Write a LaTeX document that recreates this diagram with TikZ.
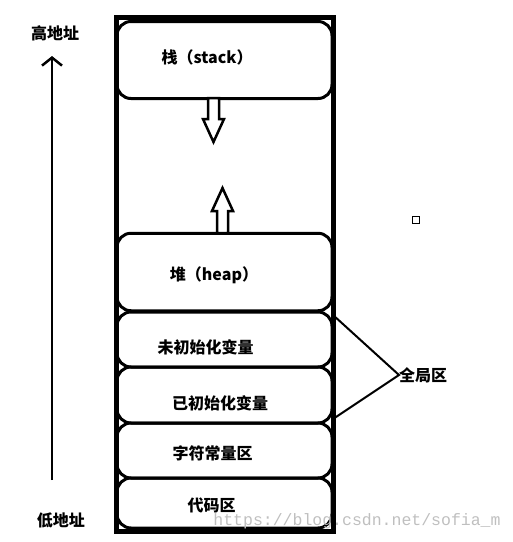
\documentclass[tikz,border=0pt]{standalone}
\usepackage{fontspec}
\newfontfamily\cjk{Noto Sans CJK SC}
\newfontfamily\wmfont{Liberation Mono}
\usetikzlibrary{arrows.meta}
\tikzset{
  mem/.style={rectangle, draw=black, line width=5pt, minimum width=216.5pt, minimum height=513.5pt, inner sep=0pt, outer sep=0pt},
  blk/.style={rectangle, rounded corners=14pt, draw=black, line width=3pt, minimum width=215pt, inner sep=0pt, outer sep=0pt},
  lbl/.style={font=\cjk\bfseries\fontsize{16pt}{18pt}\selectfont, inner sep=0pt},
  hol/.style={draw=black, line width=2.5pt, fill=white, line join=miter},
  wm/.style={font=\wmfont\fontsize{16.5pt}{18pt}\selectfont, text=black!25, inner sep=0pt}
}

\begin{document}
\begin{tikzpicture}[x=1pt, y=-1pt]
	\useasboundingbox (0,0) rectangle (513,542);
	\node[blk, minimum height=77pt] (stk) at (224.5,60) {};
	\node[blk, minimum height=77.5pt] (heap) at (224.5,272) {};
	\node[blk, minimum height=55pt] (bss) at (224.5,339.5) {};
	\node[blk, minimum height=56pt] (data) at (224.5,395) {};
	\node[blk, minimum height=55pt] (rodata) at (224.5,450.5) {};
	\node[blk, minimum height=50pt] (text) at (224.5,503) {};
	\node[mem] (mem) at (224.75,274.25) {};
	%
	\node[lbl] (stklbl) at (207,57) {栈（stack）};
	\node[lbl] (heaplbl) at (214,275) {堆（heap）};
	\node[lbl] (bsslbl) at (205.5,347) {未初始化变量};
	\node[lbl] (datalbl) at (220,403) {已初始化变量};
	\node[lbl] (rodatalbl) at (212.5,453) {字符常量区};
	\node[lbl] (textlbl) at (211.5,505) {代码区};
	%
	\draw[hol] (208,98) -- (208,119) -- (203,119) -- (213.5,142) -- (224,119) -- (219,119) -- (219,98) -- cycle;
	\draw[hol] (217,233) -- (217,211) -- (212,211) -- (222.5,188) -- (233,211) -- (228,211) -- (228,233) -- cycle;
	%
	\node[lbl] (hiaddr) at (55,33) {高地址};
	\node[lbl] (loaddr) at (61,520) {低地址};
	\coordinate (lo) at (52,480);
	\coordinate (hi) at (52,56);
	\draw[line width=2.5pt, -{Straight Barb[length=8pt,width=20pt]}] (lo) -- (hi);
	%
	\node[lbl, anchor=west] (glob) at (399,375) {全局区};
	\coordinate (g1) at (333,315);
	\coordinate (g2) at (333,419);
	\draw[line width=2pt] (g1) -- (glob.west) -- (g2);
	%
	\node[draw, line width=1pt, minimum size=7pt, inner sep=0pt] (dot) at (415.5,220) {};
	\node[wm] (mark) at (357,521) {https://blog.csdn.net/sofia\_m};
\end{tikzpicture}
\end{document}
